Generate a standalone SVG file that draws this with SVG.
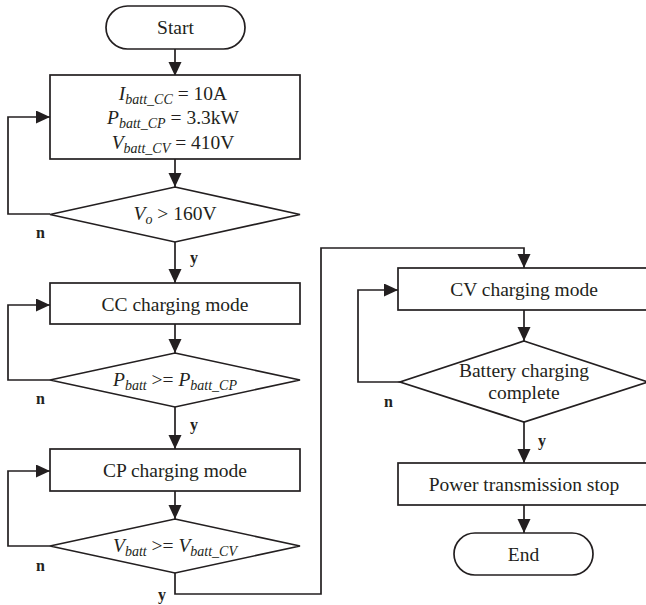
<svg xmlns="http://www.w3.org/2000/svg" width="646" height="605" viewBox="0 0 646 605">
<defs>
<marker id="ah" markerUnits="userSpaceOnUse" markerWidth="16" markerHeight="16" refX="14" refY="6.5" orient="auto">
<path d="M0,0 L14,6.5 L0,13 Z" fill="#231f20"/>
</marker>
<style>
.s{fill:#fff;stroke:#231f20;stroke-width:1.7}
.c{fill:none;stroke:#231f20;stroke-width:1.7}
.t{font-family:"Liberation Serif","Times New Roman",serif;font-size:19.5px;fill:#231f20;text-anchor:middle}
.i{font-style:italic}
.sub{font-style:italic;font-size:14px}
.l{font-family:"Liberation Serif","Times New Roman",serif;font-size:16px;font-weight:bold;fill:#231f20}
</style>
</defs>
<rect width="646" height="605" fill="#fff"/>
<g id="connectors">
<path class="c" d="M175,49 V76" marker-end="url(#ah)"/>
<path class="c" d="M175,159 V187" marker-end="url(#ah)"/>
<path class="c" d="M175,242 V283" marker-end="url(#ah)"/>
<path class="c" d="M175,324 V353" marker-end="url(#ah)"/>
<path class="c" d="M175,407 V449" marker-end="url(#ah)"/>
<path class="c" d="M175,491 V519" marker-end="url(#ah)"/>
<path class="c" d="M175,573 V594 H321 V248 H524 V268" marker-end="url(#ah)"/>
<path class="c" d="M524,310 V341" marker-end="url(#ah)"/>
<path class="c" d="M524,422 V463" marker-end="url(#ah)"/>
<path class="c" d="M524,505 V533" marker-end="url(#ah)"/>
<path class="c" d="M50,214 H8 V117 H50" marker-end="url(#ah)"/>
<path class="c" d="M50,380 H8 V305 H50" marker-end="url(#ah)"/>
<path class="c" d="M50,546 H8 V471 H50" marker-end="url(#ah)"/>
<path class="c" d="M400,382 H358 V290 H398" marker-end="url(#ah)"/>
<text class="l" x="36" y="238">n</text>
<text class="l" x="190" y="263">y</text>
<text class="l" x="36" y="404">n</text>
<text class="l" x="190" y="430">y</text>
<text class="l" x="36" y="571">n</text>
<text class="l" x="158" y="600">y</text>
<text class="l" x="384" y="407">n</text>
<text class="l" x="538" y="446">y</text>
</g>
<g id="start">
<rect class="s" x="106" y="6" width="139" height="43" rx="21.5"/>
<text class="t" x="175.5" y="34">Start</text>
</g>
<g id="init">
<rect class="s" x="50" y="75" width="250" height="84"/>
<text class="t" x="173" y="99.5"><tspan class="i">I</tspan><tspan class="sub" dy="4">batt_CC</tspan><tspan dy="-4"> = 10A</tspan></text>
<text class="t" x="173" y="124"><tspan class="i">P</tspan><tspan class="sub" dy="4">batt_CP</tspan><tspan dy="-4"> = 3.3kW</tspan></text>
<text class="t" x="173" y="148.5"><tspan class="i">V</tspan><tspan class="sub" dy="4">batt_CV</tspan><tspan dy="-4"> = 410V</tspan></text>
</g>
<g id="d1">
<polygon class="s" points="175,187 300,214.5 175,242 50,214.5"/>
<text class="t" x="175" y="220"><tspan class="i">V</tspan><tspan class="sub" dy="4">o</tspan><tspan dy="-4"> &gt; 160V</tspan></text>
</g>
<g id="cc">
<rect class="s" x="50" y="283" width="250" height="41"/>
<text class="t" x="175" y="311">CC charging mode</text>
</g>
<g id="d2">
<polygon class="s" points="175,353 300,380 175,407 50,380"/>
<text class="t" x="175" y="386"><tspan class="i">P</tspan><tspan class="sub" dy="4">batt</tspan><tspan dy="-4"> &gt;= </tspan><tspan class="i">P</tspan><tspan class="sub" dy="4">batt_CP</tspan></text>
</g>
<g id="cp">
<rect class="s" x="50" y="449" width="250" height="42"/>
<text class="t" x="175" y="477">CP charging mode</text>
</g>
<g id="d3">
<polygon class="s" points="175,519 300,546 175,573 50,546"/>
<text class="t" x="175" y="552"><tspan class="i">V</tspan><tspan class="sub" dy="4">batt</tspan><tspan dy="-4"> &gt;= </tspan><tspan class="i">V</tspan><tspan class="sub" dy="4">batt_CV</tspan></text>
</g>
<g id="cv">
<rect class="s" x="398" y="268" width="252" height="42"/>
<text class="t" x="524" y="296">CV charging mode</text>
</g>
<g id="d4">
<polygon class="s" points="524,341 648,382 524,422 400,382"/>
<text class="t" x="524" y="377">Battery charging</text>
<text class="t" x="524" y="399">complete</text>
</g>
<g id="power">
<rect class="s" x="398" y="463" width="252" height="42"/>
<text class="t" x="524" y="491">Power transmission stop</text>
</g>
<g id="end">
<rect class="s" x="454" y="533" width="139" height="42" rx="21"/>
<text class="t" x="523.5" y="561">End</text>
</g>
</svg>
